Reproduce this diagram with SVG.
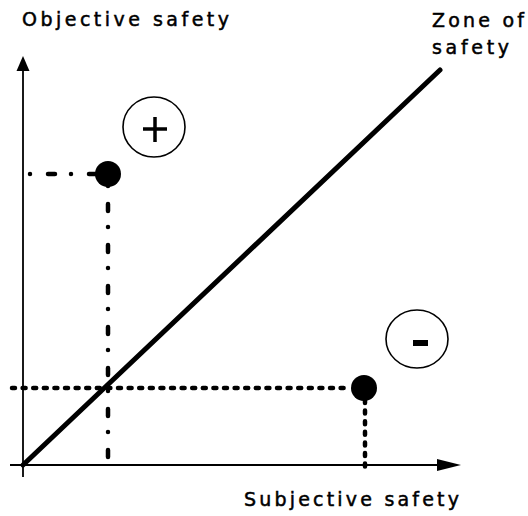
<svg xmlns="http://www.w3.org/2000/svg" width="528" height="516" viewBox="0 0 528 516">
<style>
.lbl{font-family:"DejaVu Sans","Verdana",sans-serif;font-size:19px;fill:#000;stroke:#000;stroke-width:0.5}
.axis{stroke:#000;stroke-width:1.8;fill:none}
.dd{stroke:#000;stroke-width:4.5;fill:none;stroke-linecap:round;stroke-dasharray:0 18 7 16}
.dot{stroke:#000;stroke-width:4.5;fill:none;stroke-linecap:round;stroke-dasharray:3 7.6}
.circ{fill:#fff;stroke:#000;stroke-width:1.6}
</style>
<rect width="528" height="516" fill="#fff"/>
<g id="connectors">
  <line class="dd" x1="30" y1="174" x2="100" y2="174"/>
  <line class="dd" x1="108" y1="186" x2="108" y2="472"/>
  <line class="dot" x1="12" y1="388" x2="350" y2="388"/>
  <line class="dot" x1="365" y1="400" x2="365" y2="472"/>
  <line x1="23" y1="465" x2="440" y2="70" stroke="#000" stroke-width="5" stroke-linecap="round"/>
</g>
<g id="y-axis">
  <line class="axis" x1="23" y1="68" x2="23" y2="477"/>
  <polygon points="23,56 16.5,71 29.5,71" fill="#000"/>
  <text class="lbl" x="22" y="26" textLength="207" lengthAdjust="spacing">Objective safety</text>
</g>
<g id="x-axis">
  <line class="axis" x1="10" y1="465" x2="442" y2="465"/>
  <polygon points="461,465 437,459 437,471" fill="#000"/>
  <text class="lbl" x="244" y="506" textLength="215" lengthAdjust="spacing">Subjective safety</text>
</g>
<g id="zone-label">
  <text class="lbl" x="432" y="27" textLength="92" lengthAdjust="spacing">Zone of</text>
  <text class="lbl" x="432" y="54" textLength="77" lengthAdjust="spacing">safety</text>
</g>
<g id="point-top">
  <circle cx="108" cy="174" r="13" fill="#000"/>
</g>
<g id="point-bottom">
  <circle cx="364" cy="388" r="13" fill="#000"/>
</g>
<g id="plus">
  <ellipse class="circ" cx="154" cy="127" rx="31" ry="30"/>
  <line x1="143" y1="129" x2="167" y2="129" stroke="#000" stroke-width="3.5"/>
  <line x1="155" y1="117" x2="155" y2="142" stroke="#000" stroke-width="3.5"/>
</g>
<g id="minus">
  <ellipse class="circ" cx="417" cy="339" rx="31" ry="29"/>
  <rect x="413" y="340" width="15" height="6" fill="#000"/>
</g>
</svg>
